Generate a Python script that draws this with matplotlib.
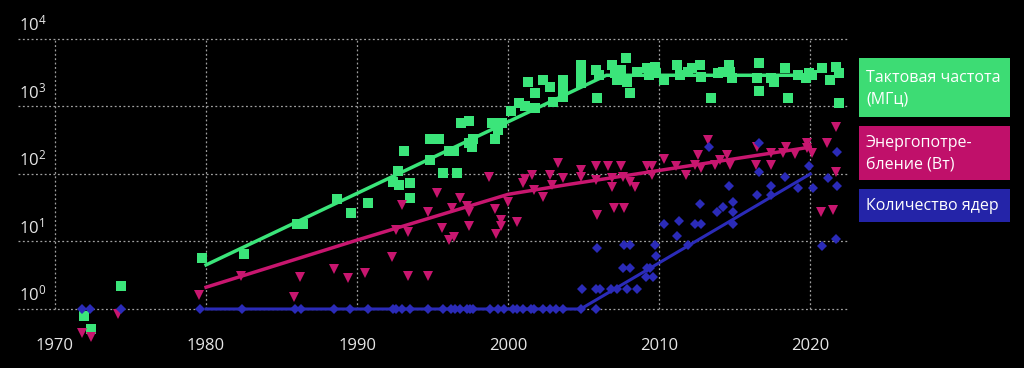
import matplotlib
matplotlib.use('Agg')
import matplotlib.pyplot as plt
from matplotlib.patches import Rectangle

plt.rcParams['font.family'] = ['Open Sans', 'DejaVu Sans']
plt.rcParams['mathtext.fontset'] = 'custom'
plt.rcParams['mathtext.rm'] = 'Open Sans'

# axis labels
x_ticks = [1970, 1980, 1990, 2000, 2010, 2020]
y_ticks = [1, 10, 100, 1000, 10000]
y_labels = [r'$\mathregular{10^{0}}$', r'$\mathregular{10^{1}}$', r'$\mathregular{10^{2}}$',
            r'$\mathregular{10^{3}}$', r'$\mathregular{10^{4}}$']

labels = ['Тактовая частота\n(МГц)', 'Энергопотре-\nбление (Вт)', 'Количество ядер']

# clock frequency, MHz
freq_year = [1971.9, 1972.4, 1974.4, 1979.7, 1982.5, 1986.0, 1986.4, 1988.7, 1989.6, 1990.7,
             1992.4, 1992.7, 1992.8, 1993.1, 1993.5, 1993.5, 1994.8, 1994.8, 1995.4, 1995.7,
             1996.1, 1996.4, 1996.6, 1996.9, 1997.4, 1997.4, 1997.6, 1997.7, 1998.9, 1999.1,
             1999.3, 1999.6, 2000.2, 2000.7, 2001.1, 2001.3, 2001.8, 2001.8, 2002.3, 2002.8,
             2003.0, 2003.6, 2003.6, 2003.6, 2004.8, 2004.8, 2004.8, 2005.8, 2006.0, 2005.9,
             2006.9, 2007.1, 2007.2, 2007.8, 2007.5, 2007.9, 2008.1, 2008.5, 2009.2, 2009.3,
             2009.7, 2009.8, 2010.3, 2011.2, 2011.4, 2011.9, 2012.2, 2012.7, 2012.8, 2013.4,
             2013.9, 2014.2, 2014.6, 2014.7, 2014.8, 2016.5, 2016.6, 2016.6, 2017.4, 2017.6,
             2018.3, 2018.5, 2019.2, 2019.7, 2019.9, 2020.1, 2020.8, 2021.3, 2021.7, 2021.9,
             2021.9]
freq_val = [0.8, 0.5, 2.2, 5.7, 6.5, 18, 18, 43, 26, 37,
            76, 110, 69, 219, 74, 44, 330, 162, 330, 103,
            219, 219, 103, 570, 610, 290, 250, 330, 570, 330,
            450, 570, 860, 1130, 1000, 2300, 1600, 950, 2450, 1950,
            1170, 2450, 1950, 1380, 4100, 2900, 2200, 3500, 2900, 1340,
            4100, 3150, 2450, 5250, 3500, 2300, 1600, 3250, 3700, 2900,
            3850, 3150, 2450, 4100, 2900, 3250, 3700, 4100, 2750, 1340,
            3150, 3250, 4100, 3250, 2650, 2650, 4400, 1700, 2650, 2300,
            3700, 1340, 2900, 2650, 3150, 2900, 3700, 2450, 3850, 3150,
            1130]

# power, W
power_year = [1971.8, 1972.4, 1974.2, 1979.5, 1982.3, 1985.8, 1986.2, 1988.5, 1989.4, 1990.5,
              1992.3, 1993.4, 1994.7, 1993.0, 1993.4, 1992.6, 1994.7, 1995.3, 1995.6, 1996.3,
              1996.1, 1996.4, 1996.8, 1997.3, 1997.4, 1997.4, 1998.7, 1999.1, 1999.2, 1999.5,
              1999.5, 2000.0, 2000.6, 2001.0, 2001.1, 2001.6, 2001.7, 2002.3, 2002.8, 2002.9,
              2003.3, 2003.6, 2004.8, 2004.8, 2005.8, 2005.9, 2005.8, 2006.6, 2006.9, 2006.9,
              2007.0, 2007.5, 2007.7, 2007.6, 2008.1, 2008.4, 2009.2, 2009.5, 2009.5, 2010.3,
              2011.1, 2011.8, 2012.4, 2012.6, 2012.8, 2013.2, 2013.7, 2014.0, 2014.5, 2014.7,
              2016.4, 2016.5, 2017.4, 2017.4, 2018.2, 2018.4, 2019.0, 2019.8, 2019.8, 2020.1,
              2021.1, 2020.7, 2021.5, 2021.7, 2021.7]
power_val = [0.44, 0.39, 0.85, 1.6, 3.1, 1.5, 3.0, 3.9, 2.9, 3.4,
             5.9, 3.1, 3.1, 35, 14, 15, 27, 52, 16, 31,
             10.5, 11.7, 44, 34, 27, 17, 91, 30, 13, 21,
             17, 39, 19.5, 74, 85, 97, 58, 46, 97, 69,
             145, 87, 115, 91, 130, 25, 81, 130, 87, 65,
             31, 130, 31, 91, 76, 65, 130, 130, 97, 165,
             130, 97, 135, 190, 123, 320, 135, 162, 190, 135,
             135, 250, 205, 135, 205, 250, 200, 290, 240, 205,
             290, 27, 29, 500, 107]

# number of cores
cores_year = [1971.8, 1972.3, 1974.4, 1979.6, 1982.4, 1985.9, 1986.3, 1988.5, 1989.5, 1990.7,
              1992.4, 1992.6, 1993.0, 1993.5, 1994.7, 1995.7, 1996.2, 1996.5, 1996.8, 1997.3,
              1997.5, 1997.7, 1998.8, 1999.3, 1999.7, 2000.3, 2000.6, 2001.0, 2001.5, 2001.7,
              2002.3, 2002.8, 2003.2, 2003.6, 2004.8, 2005.8,
              2004.9, 2005.8, 2006.1, 2005.9, 2006.8, 2007.2, 2007.6, 2008.1, 2007.9, 2008.5,
              2007.7, 2008.1, 2009.2, 2009.1, 2009.6, 2009.4, 2009.7, 2009.8, 2010.3, 2011.2,
              2011.3, 2011.9, 2012.4, 2012.8, 2012.7, 2013.3, 2013.8, 2014.2, 2014.6, 2014.9,
              2014.9, 2014.9, 2016.5, 2016.6, 2016.6, 2017.4, 2017.4, 2018.3, 2019.2, 2019.9,
              2020.2, 2020.8, 2021.2, 2021.8, 2021.8, 2021.7]
cores_val = [1, 1, 1, 1, 1, 1, 1, 1, 1, 1,
             1, 1, 1, 1, 1, 1, 1, 1, 1, 1,
             1, 1, 1, 1, 1, 1, 1, 1, 1, 1,
             1, 1, 1, 1, 1, 1,
             2, 2, 2, 8, 2, 2, 4, 4, 2, 2,
             9, 9, 4, 3, 3, 4, 9, 6, 18, 12,
             20, 9, 18, 18, 36, 250, 27, 32, 66, 38,
             27, 18, 49, 107, 290, 66, 49, 90, 62, 132,
             62, 8.5, 87, 210, 66, 11]

# trend lines
freq_trend_year = [1980, 2006.5, 2020]
freq_trend_val = [4.5, 2900, 2900]
power_trend_year = [1980, 1990, 2000, 2004, 2020]
power_trend_val = [2.1, 10.5, 50, 70, 250]
cores_trend_year = [1980, 2004.8, 2020]
cores_trend_val = [1, 1, 100]

green = '#3be57a'
magenta = '#c8166f'
blue = '#2b2bb8'

fig = plt.figure(figsize=(10.24, 3.68), dpi=100, facecolor='black')
ax = fig.add_axes([18 / 1024, (368 - 342.75) / 368, 830 / 1024, 307.15 / 368])
ax.set_facecolor('black')
ax.set_yscale('log')
ax.set_xlim(1967.55, 2022.5)
ax.set_ylim(10 ** -0.5, 10 ** 4.05)
ax.set_axis_off()

grid_kw = dict(color='#a0a0a0', lw=0.9, ls=(0, (1.5, 2)), zorder=1)
ax.hlines(y_ticks, 1967.55, 2022.5, **grid_kw)
ax.vlines(x_ticks, 1, 1e4, **grid_kw)

for yv, lbl in zip(y_ticks, y_labels):
    ax.annotate(lbl, xy=(0, yv), xycoords=ax.get_yaxis_transform(), xytext=(1, 6),
                textcoords='offset points', ha='left', va='baseline', color='#e6e6e6', fontsize=12)
for xv in x_ticks:
    ax.annotate(str(xv), xy=(xv, 0), xycoords=ax.get_xaxis_transform(), xytext=(0, -2),
                textcoords='offset points', ha='center', va='center', color='#e6e6e6', fontsize=12)

ax.plot(freq_year, freq_val, 's', color=green, ms=6.6, mew=0, clip_on=False, zorder=3)
ax.plot(power_year, power_val, 'v', color=magenta, ms=7.0, mew=0, clip_on=False, zorder=3)
ax.plot(cores_year, cores_val, 'D', color=blue, ms=5.0, mew=0, clip_on=False, zorder=3)

ax.plot(freq_trend_year, freq_trend_val, '-', color=green, lw=2.5, zorder=4)
ax.plot(power_trend_year, power_trend_val, '-', color=magenta, lw=2.5, zorder=4)
ax.plot(cores_trend_year, cores_trend_val, '-', color=blue, lw=2.2, zorder=4)

# legend boxes
boxes = [(58, 117, '#3ddc74'), (126, 180, '#c0106a'), (189, 222, '#2424a8')]
for (y0, y1, c), lbl in zip(boxes, labels):
    fig.add_artist(Rectangle((859 / 1024, 1 - y1 / 368), 151 / 1024, (y1 - y0) / 368,
                             transform=fig.transFigure, color=c, lw=0))
    fig.text(866 / 1024, 1 - ((y0 + y1) / 2 + 1) / 368, lbl, ha='left', va='center',
             color='white', fontsize=11.5, linespacing=1.45)

fig.savefig('out.png', dpi=100, facecolor='black')
